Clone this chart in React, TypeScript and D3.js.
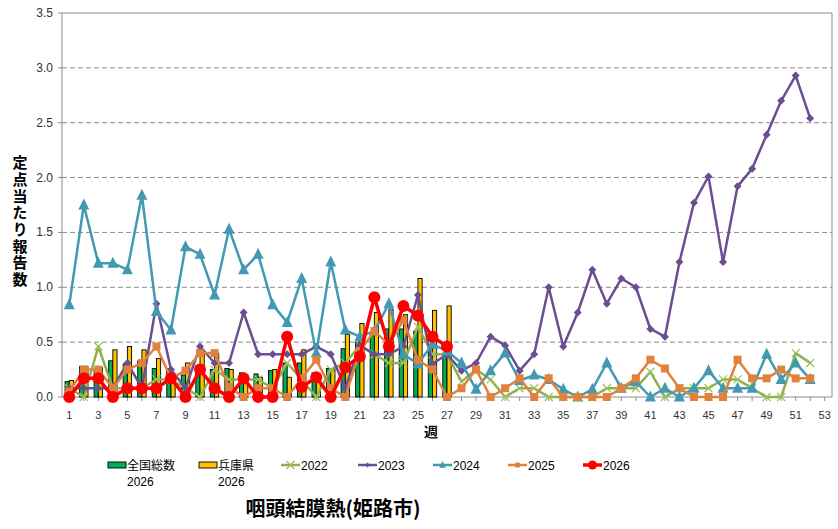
import React from "react";
import * as d3 from "d3";

const weeks = d3.range(1, 54);
const yTicks = [0, 0.5, 1.0, 1.5, 2.0, 2.5, 3.0, 3.5];
const xTickLabels = d3.range(1, 54, 2);

const national2026 = [0.14, 0.28, 0.25, 0.33, 0.3, 0.33, 0.26, 0.26, 0.2, 0.27, 0.25, 0.26, 0.22, 0.21, 0.24, 0.31, 0.31, 0.22, 0.26, 0.44, 0.5, 0.56, 0.62, 0.62, 0.6, 0.45, 0.4];
const hyogo2026 = [0.15, 0.28, 0.27, 0.43, 0.46, 0.43, 0.35, 0.2, 0.31, 0.43, 0.4, 0.25, 0.2, 0.18, 0.25, 0.18, 0.43, 0.2, 0.25, 0.57, 0.67, 0.77, 0.8, 0.75, 1.08, 0.79, 0.83];

const y2022 = [0.08, 0, 0.46, 0.08, 0.08, 0.08, 0.16, 0.16, 0.08, 0, 0.25, 0.16, 0.16, 0.16, 0.08, 0.31, 0.16, 0, 0.25, 0.31, 0.47, 0.39, 0.31, 0.31, 0.64, 0.39, 0.39, 0.14, 0.25, 0.16, 0, 0.08, 0.08, 0, 0, 0, 0, 0.08, 0.08, 0.08, 0.23, 0, 0.08, 0.08, 0.08, 0.16, 0.16, 0.08, 0, 0, 0.4, 0.31];
const y2023 = [0.08, 0.08, 0.08, 0.08, 0.31, 0.08, 0.85, 0.25, 0.08, 0.46, 0.31, 0.31, 0.77, 0.39, 0.39, 0.39, 0.39, 0.46, 0.39, 0.08, 0.47, 0.39, 0.39, 0.46, 0.93, 0.3, 0.39, 0.24, 0.31, 0.55, 0.47, 0.24, 0.39, 1.0, 0.46, 0.77, 1.16, 0.85, 1.08, 1.0, 0.62, 0.55, 1.23, 1.77, 2.01, 1.23, 1.92, 2.08, 2.39, 2.7, 2.93, 2.54];
const y2024 = [0.84, 1.75, 1.22, 1.22, 1.16, 1.84, 0.78, 0.61, 1.37, 1.3, 0.93, 1.53, 1.16, 1.3, 0.84, 0.68, 1.08, 0.4, 1.23, 0.61, 0.55, 0.6, 0.85, 0.39, 0.3, 0.48, 0.42, 0.31, 0.07, 0.24, 0.4, 0.15, 0.2, 0.16, 0.07, 0, 0.07, 0.31, 0.08, 0.14, 0, 0.08, 0, 0.08, 0.24, 0.08, 0.08, 0.08, 0.39, 0.16, 0.31, 0.16];
const y2025 = [0.05, 0.25, 0.25, 0.08, 0.25, 0.31, 0.46, 0.17, 0.24, 0.4, 0.4, 0.09, 0, 0.08, 0.08, 0, 0.17, 0.34, 0.08, 0, 0.42, 0.6, 0.48, 0.7, 0.34, 0.25, 0, 0.08, 0.25, 0, 0.08, 0.17, 0, 0.17, 0, 0, 0, 0, 0.08, 0.17, 0.34, 0.26, 0.08, 0, 0, 0, 0.34, 0.17, 0.17, 0.25, 0.17, 0.17];
const y2026 = [0, 0.17, 0.17, 0, 0.08, 0.08, 0.08, 0.17, 0, 0.25, 0.08, 0, 0.17, 0, 0, 0.55, 0.09, 0.18, 0, 0.27, 0.37, 0.91, 0.46, 0.83, 0.74, 0.55, 0.46];

const C2022 = "#8FAE4F";
const C2023 = "#6B4E92";
const C2024 = "#4399B2";
const C2025 = "#E0823C";
const C2026 = "#FF0000";
const CNAT = "#00B050";
const CHYO = "#FFC000";

const W = 838, H = 529;
const L = 62, R = 832, T = 13, B = 397;

const x = d3.scaleBand<number>().domain(weeks).range([L, R]).padding(0);
const cx = (w: number) => (x(w) as number) + x.bandwidth() / 2;
const y = d3.scaleLinear().domain([0, 3.5]).range([B, T]);

type MarkerKind = "x" | "diamond" | "triangle" | "square" | "circle";

function Marker({ kind, px, py, color }: { kind: MarkerKind; px: number; py: number; color: string }) {
  if (kind === "x") {
    const s = 4;
    return (
      <g stroke="#9BC35A" strokeWidth={1.2}>
        <line x1={px - s} y1={py - s} x2={px + s} y2={py + s} />
        <line x1={px - s} y1={py + s} x2={px + s} y2={py - s} />
      </g>
    );
  }
  if (kind === "diamond") {
    const s = 4;
    return <path d={`M${px},${py - s}L${px + s},${py}L${px},${py + s}L${px - s},${py}Z`} fill={color} />;
  }
  if (kind === "triangle") {
    const s = 5.5;
    return <path d={`M${px},${py - s - 1}L${px + s},${py + s - 1}L${px - s},${py + s - 1}Z`} fill={color} />;
  }
  if (kind === "square") {
    const s = 4;
    return <rect x={px - s} y={py - s} width={2 * s} height={2 * s} fill={color} />;
  }
  return <circle cx={px} cy={py} r={6} fill={color} />;
}

function Series({ data, color, kind, width }: { data: number[]; color: string; kind: MarkerKind; width: number }) {
  const line = d3.line<number>().x((_, i) => cx(i + 1)).y((d) => y(d));
  return (
    <g>
      <path d={line(data) || ""} fill="none" stroke={color} strokeWidth={width} strokeLinejoin="round" />
      {data.map((d, i) => (
        <Marker key={i} kind={kind} px={cx(i + 1)} py={y(d)} color={color} />
      ))}
    </g>
  );
}

const legendItems: { label: string; color: string; kind: MarkerKind; x: number }[] = [
  { label: "2022", color: C2022, kind: "x", x: 281 },
  { label: "2023", color: C2023, kind: "diamond", x: 358 },
  { label: "2024", color: C2024, kind: "triangle", x: 433 },
  { label: "2025", color: C2025, kind: "square", x: 508 },
  { label: "2026", color: C2026, kind: "circle", x: 583 },
];

const yTitle = "定点当たり報告数";

export default function App() {
  const bw = 4.2;
  const jp = "'Noto Sans CJK JP', 'Liberation Sans', sans-serif";
  const lat = "'Liberation Sans', Arial, sans-serif";
  return (
    <svg width={W} height={H} style={{ position: "absolute", left: 0, top: 0, background: "#fff" }}>
      <rect width={W} height={H} fill="#fff" />
      {yTicks.slice(1, -1).map((t) => (
        <line key={t} x1={L} x2={R} y1={y(t)} y2={y(t)} stroke="#8c8c8c" strokeDasharray="5,3" strokeWidth={1} />
      ))}
      <line x1={L} x2={R} y1={T} y2={T} stroke="#8c8c8c" />
      <line x1={R} x2={R} y1={T} y2={B} stroke="#8c8c8c" />
      <line x1={L} x2={L} y1={T} y2={B} stroke="#8c8c8c" />
      <line x1={L} x2={R} y1={B} y2={B} stroke="#8c8c8c" />
      {yTicks.map((t) => (
        <g key={t}>
          <line x1={L - 4} x2={L} y1={y(t)} y2={y(t)} stroke="#8c8c8c" />
          <text x={L - 9} y={y(t) + 4} textAnchor="end" fontSize={12} fontFamily={lat} fill="#333">
            {t.toFixed(1)}
          </text>
        </g>
      ))}
      {weeks.map((w) => (
        <line key={w} x1={cx(w)} x2={cx(w)} y1={B} y2={B + 4} stroke="#8c8c8c" />
      ))}
      {xTickLabels.map((w) => (
        <text key={w} x={cx(w)} y={B + 22} textAnchor="middle" fontSize={11} fontFamily={lat} fill="#333">
          {w}
        </text>
      ))}
      {national2026.map((v, i) => (
        <rect key={"n" + i} x={cx(i + 1) - bw} y={y(v)} width={bw} height={B - y(v)} fill={CNAT} stroke="#000" strokeWidth={0.9} />
      ))}
      {hyogo2026.map((v, i) => (
        <rect key={"h" + i} x={cx(i + 1)} y={y(v)} width={bw} height={B - y(v)} fill={CHYO} stroke="#000" strokeWidth={0.9} />
      ))}
      <Series data={y2022} color={C2022} kind="x" width={2.5} />
      <Series data={y2023} color={C2023} kind="diamond" width={2.5} />
      <Series data={y2024} color={C2024} kind="triangle" width={2.5} />
      <Series data={y2025} color={C2025} kind="square" width={2.5} />
      <Series data={y2026} color={C2026} kind="circle" width={3.5} />
      <text
        x={20}
        y={155}
        fontSize={15}
        fontWeight="bold"
        fontFamily={jp}
        fill="#000"
        style={{ writingMode: "vertical-rl", textOrientation: "upright", letterSpacing: "1.7px" } as React.CSSProperties}
      >
        {yTitle}
      </text>
      <text x={431} y={437} textAnchor="middle" fontSize={14} fontWeight="bold" fontFamily={jp}>
        週
      </text>
      <rect x={108} y={462} width={18} height={6} fill={CNAT} stroke="#000" strokeWidth={0.9} />
      <text x={127} y={470} fontSize={12} fontFamily={jp}>全国総数</text>
      <text x={127} y={486} fontSize={12} fontFamily={lat}>2026</text>
      <rect x={199} y={462} width={18} height={6} fill={CHYO} stroke="#000" strokeWidth={0.9} />
      <text x={218} y={470} fontSize={12} fontFamily={jp}>兵庫県</text>
      <text x={218} y={486} fontSize={12} fontFamily={lat}>2026</text>
      {legendItems.map((it) => (
        <g key={it.label}>
          <line x1={it.x} x2={it.x + 19} y1={465} y2={465} stroke={it.color} strokeWidth={it.kind === "circle" ? 3.5 : 2.5} />
          {it.kind === "circle" ? (
            <circle cx={it.x + 9.5} cy={465} r={4.5} fill={it.color} />
          ) : it.kind === "x" ? (
            <Marker kind="x" px={it.x + 9.5} py={465} color={it.color} />
          ) : (
            <g transform={`translate(${it.x + 9.5},465) scale(0.6) translate(${-(it.x + 9.5)},-465)`}>
              <Marker kind={it.kind} px={it.x + 9.5} py={465} color={it.color} />
            </g>
          )}
          <text x={it.x + 20} y={470} fontSize={12} fontFamily={lat}>
            {it.label}
          </text>
        </g>
      ))}
      <text x={333} y={516} textAnchor="middle" fontSize={20} fontWeight="bold" fontFamily={jp}>
        咽頭結膜熱(姫路市)
      </text>
    </svg>
  );
}
